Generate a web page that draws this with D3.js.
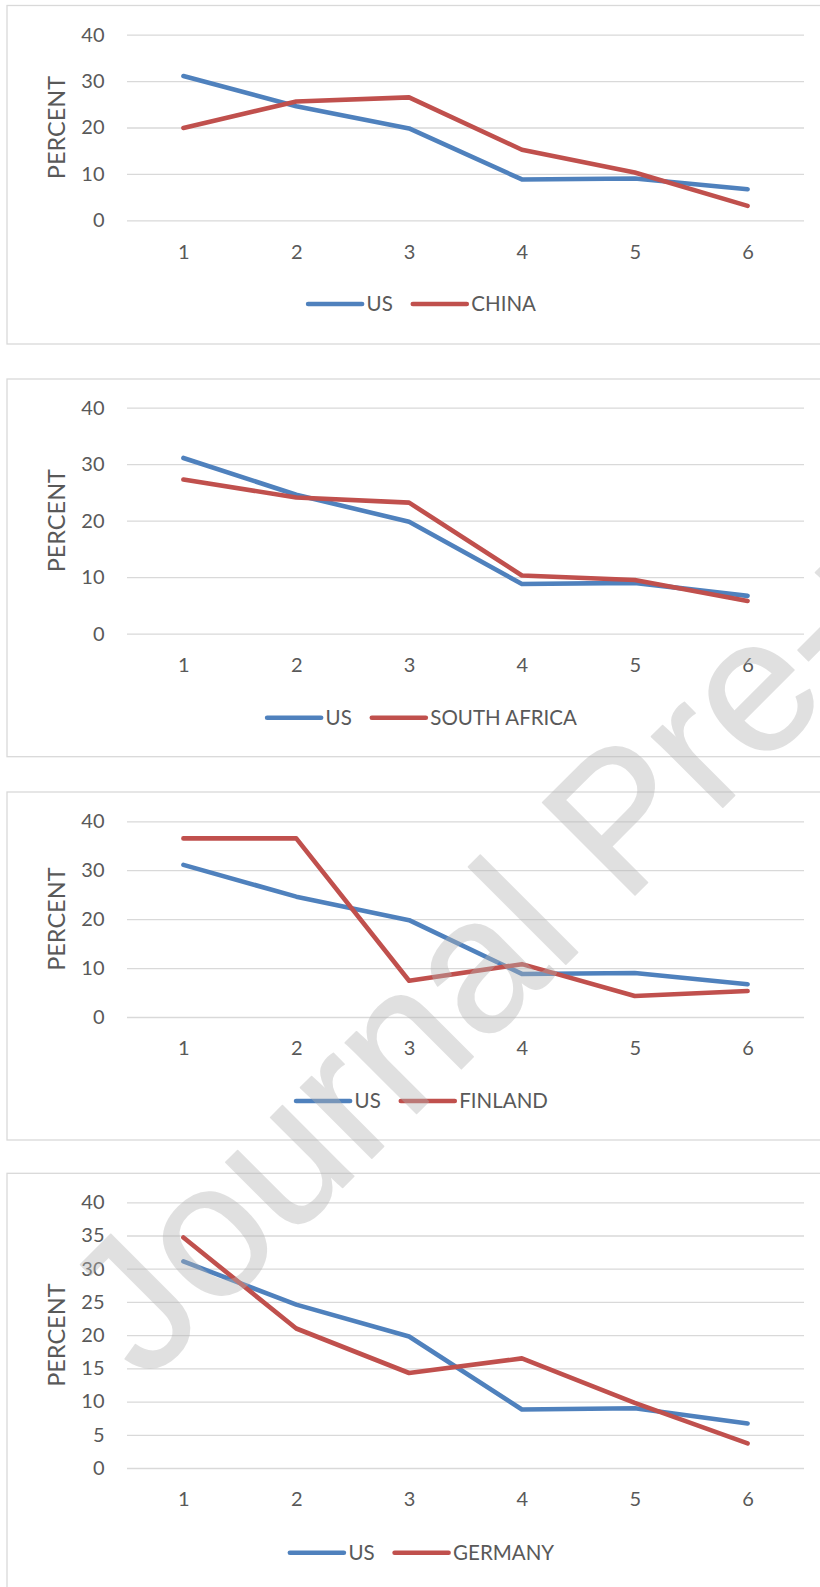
<!DOCTYPE html>
<html><head><meta charset="utf-8">
<script src="https://cdn.jsdelivr.net/npm/d3@7"></script>
<style>body{margin:0;background:#fff} svg{display:block}</style>
</head><body><svg id="c" width="820" height="1587"></svg>
<script>
// ---- data ----
const categories = [1, 2, 3, 4, 5, 6];
const usValues = [31.1, 24.6, 19.8, 8.8, 9.0, 6.7];
const chinaValues = [19.9, 25.6, 26.5, 15.2, 10.3, 3.1];
const southAfricaValues = [27.3, 24.1, 23.2, 10.3, 9.5, 5.8];
const finlandValues = [36.5, 36.5, 7.4, 10.8, 4.3, 5.3];
const germanyValues = [34.7, 21.0, 14.3, 16.5, 9.8, 3.7];
const baseName = "US";
const countryNames = ["CHINA", "SOUTH AFRICA", "FINLAND", "GERMANY"];
const countryValues = [chinaValues, southAfricaValues, finlandValues, germanyValues];
const yTicksTen = [0, 10, 20, 30, 40];
const yTicksFive = [0, 5, 10, 15, 20, 25, 30, 35, 40];
const panelTicks = [yTicksTen, yTicksTen, yTicksTen, yTicksFive];
const yAxisTitle = "PERCENT";
const watermarkText = "Journal Pre-proof";

// ---- layout ----
const layouts = [
  {top: 5.5, bottom: 344, y0: 220.3, y40: 34.7, legendY: 304},
  {top: 379, bottom: 756.7, y0: 633.7, y40: 407.7, legendY: 717.7},
  {top: 792, bottom: 1140, y0: 1017, y40: 821.3, legendY: 1101},
  {top: 1173.3, bottom: 1620, y0: 1468, y40: 1202.3, legendY: 1552.7}
];
const plotLeft = 127, plotRight = 804;
const blue = "#4F81BD", red = "#C0504D";
const textColor = "#595959", gridColor = "#D9D9D9";
const font = "Lato, 'Open Sans', sans-serif";
const tickFs = 20, titleFs = 23.5, legendFs = 20.5;

const svg = d3.select("#c");
svg.append("rect").attr("width", 820).attr("height", 1587).attr("fill", "#fff");

const x = d3.scalePoint().domain(categories).range([plotLeft, plotRight]).padding(0.5);

layouts.forEach((L, i) => {
  const g = svg.append("g");
  g.append("rect").attr("x", 7).attr("y", L.top).attr("width", 840).attr("height", L.bottom - L.top)
    .attr("fill", "none").attr("stroke", gridColor).attr("stroke-width", 1.3);

  const y = d3.scaleLinear().domain([0, 40]).range([L.y0, L.y40]);

  const ya = g.append("g").attr("transform", `translate(${plotLeft},0)`)
    .call(d3.axisLeft(y).tickValues(panelTicks[i]).tickSize(-(plotRight - plotLeft)).tickPadding(22.5));
  ya.select(".domain").remove();
  ya.selectAll("line").attr("stroke", gridColor).attr("stroke-width", 1.3);
  ya.selectAll("text").attr("fill", textColor).style("font-family", font).style("font-size", tickFs + "px");

  const xa = g.append("g").attr("transform", `translate(0,${L.y0})`)
    .call(d3.axisBottom(x).tickSize(0));
  xa.select(".domain").remove();
  xa.selectAll("text").attr("y", 31.4).attr("dy", "0.35em").attr("fill", textColor)
    .style("font-family", font).style("font-size", tickFs + "px");

  g.append("text").attr("transform", `translate(57,${(L.y0 + L.y40) / 2}) rotate(-90)`)
    .attr("text-anchor", "middle").attr("dy", "0.35em").attr("fill", textColor)
    .style("font-family", font).style("font-size", titleFs + "px").text(yAxisTitle);

  const line = d3.line().x((d, j) => x(categories[j])).y(d => y(d));
  [[usValues, blue], [countryValues[i], red]].forEach(([vals, col]) => {
    g.append("path").datum(vals).attr("d", line).attr("fill", "none").attr("stroke", col)
      .attr("stroke-width", 4.6).attr("stroke-linecap", "round").attr("stroke-linejoin", "round");
  });

  // legend
  const lg = g.append("g");
  const items = [[baseName, blue], [countryNames[i], red]];
  let cx = 0;
  items.forEach(([name, col], k) => {
    lg.append("line").attr("x1", cx).attr("x2", cx + 54).attr("y1", L.legendY).attr("y2", L.legendY)
      .attr("stroke", col).attr("stroke-width", 4.6).attr("stroke-linecap", "round");
    const t = lg.append("text").attr("x", cx + 58.5).attr("y", L.legendY).attr("dy", "0.35em")
      .attr("fill", textColor).style("font-family", font).style("font-size", legendFs + "px").text(name);
    cx += 58.5 + t.node().getComputedTextLength();
    if (k < items.length - 1) cx += 20;
  });
  lg.attr("transform", `translate(${422 - cx / 2},0)`);
});

// watermark
svg.append("g").attr("opacity", 0.4)
  .append("text").attr("transform", "translate(146,1384) rotate(-45)")
  .attr("fill", "rgb(180,180,180)").attr("stroke", "rgb(180,180,180)").attr("stroke-width", 1.5)
  .attr("stroke-linejoin", "round")
  .style("font-family", "'Liberation Sans', Arial, sans-serif").style("font-size", "190px")
  .text(watermarkText);
</script></body></html>
